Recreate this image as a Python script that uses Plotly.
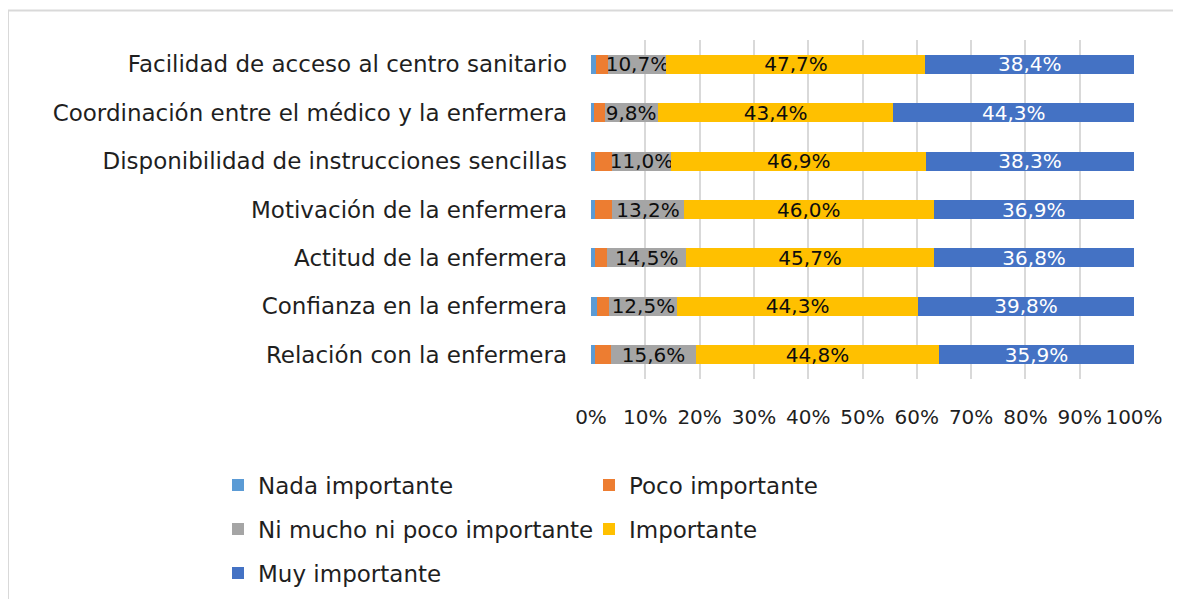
import plotly.graph_objects as go

categories = [
    "Facilidad de acceso al centro sanitario",
    "Coordinación entre el médico y la enfermera",
    "Disponibilidad de instrucciones sencillas",
    "Motivación de la enfermera",
    "Actitud de la enfermera",
    "Confianza en la enfermera",
    "Relación con la enfermera",
]
nada_importante = [0.9, 0.5, 0.8, 0.8, 0.7, 1.1, 0.8]
poco_importante = [2.3, 2.0, 3.0, 3.1, 2.3, 2.3, 2.9]
ni_mucho_ni_poco = [10.7, 9.8, 11.0, 13.2, 14.5, 12.5, 15.6]
importante = [47.7, 43.4, 46.9, 46.0, 45.7, 44.3, 44.8]
muy_importante = [38.4, 44.3, 38.3, 36.9, 36.8, 39.8, 35.9]
tick_values = [0, 10, 20, 30, 40, 50, 60, 70, 80, 90, 100]
tick_labels = ["0%", "10%", "20%", "30%", "40%", "50%", "60%", "70%", "80%", "90%", "100%"]

FONT = "DejaVu Sans"
TXT = "#1f1f1f"

# page body has an 8px margin: work in figure pixels = reference pixels - 8
OFF = 8
W, H = 1181 - OFF, 599 - OFF
ML = 591 - OFF
MR = W - (1134 - OFF)
MT = 40 - OFF
MB = H - (379 - OFF)
PW = W - ML - MR
PH = H - MT - MB

def px_x(px):
    return (px - OFF - ML) / PW

def px_y(py):
    return (H - MB - (py - OFF)) / PH

series = [
    ("Nada importante", nada_importante, "#5B9BD5", None, "legend"),
    ("Poco importante", poco_importante, "#ED7D31", None, "legend"),
    ("Ni mucho ni poco importante", ni_mucho_ni_poco, "#A5A5A5", "#0d0d0d", "legend2"),
    ("Importante", importante, "#FFC000", "#0d0d0d", "legend2"),
    ("Muy importante", muy_importante, "#4472C4", "#ffffff", "legend3"),
]

fig = go.Figure()
for name, vals, color, tcolor, leg in series:
    if tcolor:
        kw = dict(
            texttemplate="%{x:.1f}%",
            textposition="inside",
            insidetextanchor="middle",
            textangle=0,
            constraintext="none",
            textfont=dict(family=FONT, size=20, color=tcolor),
        )
    else:
        kw = dict(textposition="none")
    fig.add_trace(go.Bar(
        y=categories, x=vals, name=name, orientation="h",
        marker=dict(color=color, line=dict(width=0)),
        legend=leg, hoverinfo="skip", **kw
    ))

leg_common = dict(orientation="h", xanchor="left", yanchor="middle",
                  font=dict(family=FONT, size=23, color=TXT),
                  entrywidth=326, entrywidthmode="pixels",
                  bgcolor="rgba(0,0,0,0)", itemclick=False, itemdoubleclick=False,
                  traceorder="normal")

fig.update_layout(
    width=W, height=H,
    margin=dict(l=ML, r=MR, t=MT, b=MB, autoexpand=False),
    barmode="stack", bargap=0.61,
    separators=",.",
    plot_bgcolor="white", paper_bgcolor="white",
    font=dict(family=FONT, size=20, color=TXT),
    xaxis=dict(range=[0, 100], tickmode="array", tickvals=tick_values, ticktext=tick_labels,
               tickangle=0,
               showgrid=True, gridcolor="#d9d9d9", gridwidth=2,
               zeroline=False, showline=False, ticks="",
               tickfont=dict(family=FONT, size=20, color=TXT),
               ticklabelstandoff=24, fixedrange=True),
    yaxis=dict(autorange="reversed", showgrid=False, showline=False,
               ticks="", tickfont=dict(family=FONT, size=23, color=TXT),
               ticklabelstandoff=23, fixedrange=True),
    legend=dict(x=px_x(218), y=px_y(485), **leg_common),
    legend2=dict(x=px_x(218), y=px_y(529), **leg_common),
    legend3=dict(x=px_x(218), y=px_y(573), **leg_common),
    shapes=[
        dict(type="rect", xref="paper", yref="paper",
             x0=px_x(8), x1=px_x(1200), y0=px_y(10.5), y1=px_y(640),
             line=dict(color="#d9d9d9", width=2), fillcolor="rgba(0,0,0,0)", layer="below"),
    ],
)

fig.write_html("out.html", config={"displayModeBar": False})
